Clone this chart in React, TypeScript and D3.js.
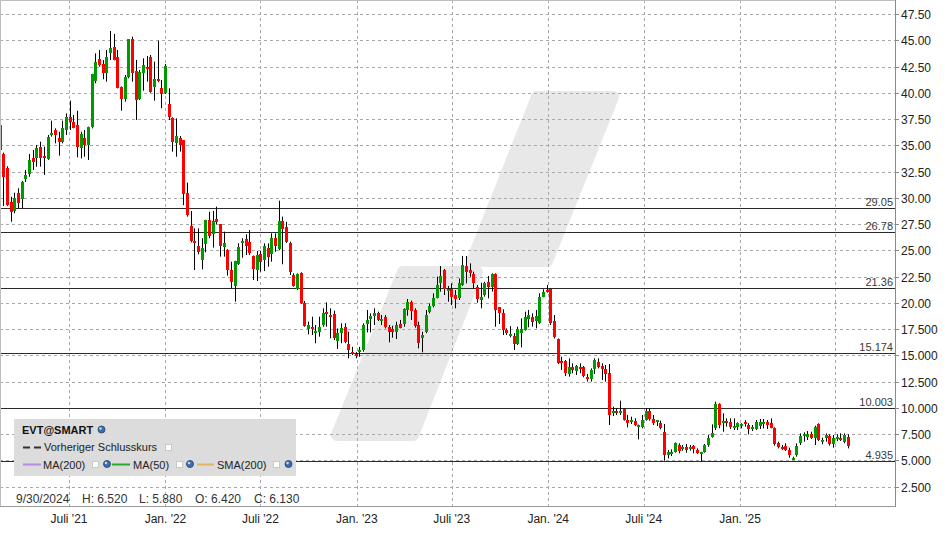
import React from 'react';
import * as d3 from 'd3';

// weekly candles, Friday dates, first bar
const FIRST_WEEK = new Date(2021, 1, 19);

// [open, high, low, close] per week
const ohlc: [number, number, number, number][] = [
  [36.93, 37.72, 34.3, 34.55], [34.17, 34.3, 29.21, 32.01], [32.8, 33.0, 29.2, 29.3], [29.63, 30.1, 27.72, 28.67],
  [28.77, 30.48, 28.52, 29.94], [30.48, 30.9, 28.99, 29.53], [29.88, 31.6, 28.99, 31.53], [31.79, 32.64, 31.5, 32.17],
  [32.26, 34.17, 32.0, 33.6], [33.75, 34.55, 32.64, 33.44], [33.75, 35.02, 32.96, 34.7], [34.83, 35.34, 32.96, 33.82],
  [33.98, 34.86, 32.17, 33.82], [33.69, 35.98, 33.6, 35.82], [35.98, 37.34, 35.82, 36.2], [36.45, 36.61, 35.18, 35.98],
  [35.66, 36.29, 34.01, 35.34], [35.34, 37.34, 35.18, 36.64], [36.45, 38.04, 35.98, 37.72], [37.66, 39.25, 36.45, 37.25],
  [37.25, 37.88, 36.61, 36.67], [36.93, 38.29, 33.85, 34.86], [34.77, 36.29, 33.75, 36.04], [35.72, 36.45, 33.91, 35.02],
  [35.02, 36.77, 33.6, 36.74], [36.74, 41.8, 36.61, 41.79], [41.15, 43.75, 40.9, 42.93], [43.21, 44.07, 42.48, 42.64],
  [42.74, 43.12, 41.28, 41.85], [41.85, 44.07, 41.06, 43.44], [43.75, 45.88, 43.12, 44.23], [44.36, 45.6, 43.1, 43.12],
  [43.37, 44.07, 40.42, 40.48], [40.52, 40.6, 38.29, 39.44], [39.44, 41.69, 39.15, 41.47], [41.47, 45.1, 41.37, 45.09],
  [45.09, 45.34, 41.06, 41.91], [42.07, 43.12, 37.4, 39.34], [39.4, 42.17, 39.31, 42.01], [41.91, 43.28, 40.2, 42.64],
  [42.48, 43.5, 41.06, 42.33], [43.37, 43.6, 40.0, 40.07], [40.52, 42.96, 39.25, 41.28], [41.28, 44.96, 41.0, 41.12],
  [40.45, 41.21, 38.52, 39.88], [39.94, 42.74, 39.88, 42.55], [38.93, 40.42, 37.4, 37.66], [37.56, 37.66, 34.39, 35.34],
  [35.25, 37.56, 33.91, 35.88], [35.66, 35.88, 34.39, 35.02], [35.5, 35.5, 29.3, 30.36], [30.48, 31.44, 28.2, 28.36],
  [27.31, 28.74, 25.75, 25.88], [25.88, 27.08, 23.12, 25.72], [25.4, 27.08, 24.61, 24.8], [24.07, 26.14, 23.18, 25.25],
  [25.6, 27.9, 24.8, 27.88], [27.88, 28.67, 26.14, 26.39], [26.55, 28.74, 25.25, 27.79], [27.98, 29.15, 27.47, 27.72],
  [27.47, 27.5, 24.39, 25.44], [25.34, 26.77, 24.39, 25.66], [25.02, 25.1, 22.58, 23.12], [23.12, 23.91, 21.37, 22.01],
  [21.63, 24.0, 20.1, 23.98], [23.66, 25.66, 23.6, 25.34], [25.72, 26.14, 24.29, 25.88], [26.07, 26.52, 24.55, 25.44],
  [25.75, 26.93, 24.55, 24.77], [24.45, 24.5, 22.17, 23.21], [23.12, 24.93, 22.07, 24.55], [24.61, 24.93, 22.96, 23.91],
  [24.07, 25.66, 23.02, 25.4], [25.18, 25.66, 23.44, 24.39], [24.64, 26.61, 23.91, 26.14], [26.14, 26.61, 24.86, 25.44],
  [25.12, 29.72, 25.0, 27.79], [27.79, 28.2, 23.66, 27.02], [27.24, 27.72, 25.7, 25.82], [25.66, 25.82, 22.64, 22.96],
  [22.64, 22.8, 21.53, 21.63], [21.28, 22.8, 21.21, 22.7], [22.8, 22.9, 19.9, 19.94], [19.94, 20.17, 17.72, 17.82],
  [17.5, 18.2, 16.99, 17.88], [17.72, 18.67, 16.93, 17.5], [17.18, 17.88, 16.14, 17.34], [17.24, 18.67, 16.77, 17.72],
  [17.88, 19.47, 17.72, 18.99], [19.15, 20.04, 17.72, 18.9], [18.83, 19.47, 16.61, 18.67], [18.93, 19.25, 16.45, 16.61],
  [16.39, 17.56, 15.6, 17.09], [17.15, 18.04, 16.14, 17.56], [17.72, 18.04, 16.14, 16.23], [16.04, 17.24, 14.71, 15.5],
  [15.28, 15.8, 15.02, 15.15], [15.15, 15.3, 14.71, 15.02], [15.28, 15.8, 14.86, 15.5], [15.5, 18.04, 15.34, 17.88],
  [17.97, 19.31, 17.18, 18.36], [18.45, 18.99, 17.18, 18.77], [18.77, 19.47, 17.88, 18.99], [18.99, 19.15, 18.26, 18.36],
  [18.26, 18.83, 17.88, 18.45], [18.64, 18.83, 17.56, 17.72], [17.69, 17.88, 16.23, 17.24], [17.5, 17.82, 16.67, 17.18],
  [17.18, 18.2, 16.55, 17.88], [17.94, 18.36, 17.56, 17.62], [17.94, 19.47, 17.72, 19.4], [19.31, 20.36, 18.77, 20.1],
  [20.1, 20.2, 18.36, 19.21], [19.31, 19.47, 17.63, 17.82], [17.88, 18.2, 15.66, 16.14], [16.67, 17.24, 15.28, 16.93],
  [17.18, 19.31, 17.1, 18.83], [19.15, 19.94, 18.99, 19.69], [19.69, 20.9, 19.56, 20.42], [20.48, 22.48, 20.42, 21.69],
  [21.85, 23.5, 21.06, 22.55], [23.12, 23.2, 20.74, 21.28], [21.15, 21.6, 20.1, 21.28], [21.28, 21.85, 19.78, 20.58],
  [20.74, 21.21, 19.47, 20.36], [20.42, 22.32, 20.26, 21.91], [21.69, 24.45, 21.6, 23.6], [23.53, 24.45, 21.85, 22.96],
  [23.12, 23.75, 22.48, 22.8], [22.74, 22.96, 21.37, 21.85], [21.53, 21.69, 20.0, 20.33], [20.26, 21.91, 19.47, 20.58],
  [20.74, 22.0, 20.58, 21.85], [22.0, 22.55, 20.42, 21.47], [21.47, 22.8, 21.06, 22.74], [22.74, 22.8, 17.72, 19.31],
  [19.56, 19.6, 17.98, 19.0], [19.06, 19.37, 16.93, 17.4], [17.4, 17.56, 16.93, 17.09], [16.87, 17.78, 16.71, 17.02],
  [16.87, 17.1, 15.5, 16.07], [16.07, 17.72, 15.98, 17.47], [17.15, 18.51, 15.75, 17.47], [17.4, 19.15, 17.34, 18.61],
  [18.42, 19.31, 17.66, 18.83], [18.61, 18.99, 17.72, 18.2], [18.29, 19.31, 17.56, 18.74], [18.1, 20.9, 17.98, 20.58],
  [20.58, 21.28, 20.52, 21.06], [21.21, 21.69, 20.96, 21.06], [21.28, 21.35, 17.88, 18.04], [18.29, 18.83, 16.6, 16.71],
  [16.52, 16.6, 14.17, 14.23], [14.45, 14.86, 13.6, 14.39], [14.45, 14.55, 13.02, 13.28], [13.22, 14.7, 12.96, 13.85],
  [13.85, 14.23, 13.28, 13.6], [13.53, 14.07, 13.12, 13.98], [13.85, 14.23, 13.28, 13.66], [13.85, 13.98, 12.9, 13.02],
  [12.9, 13.22, 12.49, 12.71], [12.71, 13.75, 12.49, 13.6], [13.66, 14.7, 13.22, 14.55], [14.39, 14.7, 13.75, 13.91],
  [13.98, 14.23, 12.64, 13.66], [13.66, 14.07, 12.49, 13.22], [13.28, 14.17, 8.36, 9.31], [9.53, 10.1, 9.21, 9.69],
  [9.69, 9.94, 9.31, 9.53], [9.53, 10.67, 9.31, 9.69], [9.85, 9.94, 8.77, 8.83], [8.83, 9.31, 8.13, 8.52],
  [8.67, 9.15, 8.45, 8.83], [8.77, 8.99, 8.26, 8.36], [8.2, 8.4, 6.99, 8.36], [8.13, 9.31, 8.04, 8.83],
  [8.83, 9.94, 8.77, 9.69], [9.69, 9.94, 8.77, 8.9], [8.9, 9.31, 8.36, 8.58], [8.67, 8.83, 8.26, 8.83],
  [8.58, 8.77, 7.94, 8.04], [7.72, 8.45, 4.96, 5.5], [5.5, 5.98, 5.18, 5.82], [5.66, 6.04, 5.4, 5.82],
  [5.82, 6.7, 5.72, 6.67], [6.45, 6.61, 5.66, 5.91], [6.04, 6.45, 5.91, 6.23], [6.23, 6.55, 5.72, 5.98],
  [6.04, 6.45, 5.91, 6.23], [6.36, 6.45, 5.66, 6.1], [5.98, 6.13, 5.6, 5.66], [5.66, 5.8, 4.93, 5.79],
  [5.82, 6.55, 5.72, 6.45], [6.45, 7.4, 6.29, 7.09], [7.24, 8.42, 7.15, 7.56], [8.04, 10.58, 7.88, 10.36],
  [10.36, 10.42, 8.04, 8.36], [8.61, 9.47, 7.72, 8.74], [8.74, 8.99, 8.2, 8.52], [8.61, 8.99, 7.98, 8.2],
  [8.1, 8.99, 7.88, 8.29], [8.2, 8.61, 7.88, 8.52], [8.29, 8.52, 8.04, 8.42], [8.67, 8.83, 8.2, 8.42],
  [8.36, 8.52, 7.47, 7.98], [7.98, 8.36, 7.78, 8.2], [7.98, 8.83, 7.88, 8.61], [8.29, 8.93, 7.98, 8.61],
  [8.52, 8.93, 8.04, 8.61], [8.61, 8.83, 7.98, 8.36], [8.52, 8.99, 8.04, 8.1], [8.1, 8.14, 6.39, 6.52],
  [6.61, 6.77, 6.13, 6.29], [6.29, 6.45, 5.98, 6.13], [6.39, 6.61, 5.88, 5.98], [5.98, 6.2, 5.25, 5.5],
  [5.12, 5.34, 5.02, 5.25], [5.5, 6.61, 5.34, 6.39], [6.61, 7.56, 6.45, 7.34], [7.34, 7.66, 6.77, 7.47],
  [7.24, 7.78, 6.93, 7.47], [7.47, 7.72, 7.02, 7.15], [7.15, 8.29, 6.45, 8.2], [8.42, 8.52, 6.83, 6.93],
  [6.77, 7.15, 6.52, 6.93], [7.15, 7.56, 6.77, 7.4], [7.34, 7.47, 6.39, 6.52], [6.52, 7.4, 6.2, 7.15],
  [7.09, 7.47, 6.83, 7.24], [7.15, 7.56, 6.83, 7.02], [6.77, 7.56, 6.61, 7.4], [7.24, 7.47, 6.13, 6.39],
];

// horizontal levels (support / resistance)
const levels = [29.05, 26.78, 21.36, 15.174, 10.003, 4.935];
const levelLabels = ['29.05', '26.78', '21.36', '15.174', '10.003', '4.935'];

// right axis
const yTicks = [47.5, 45, 42.5, 40, 37.5, 35, 32.5, 30, 27.5, 25, 22.5, 20, 17.5, 15, 12.5, 10, 7.5, 5, 2.5];
const yTickLabels = ['47.50', '45.00', '42.50', '40.00', '37.50', '35.00', '32.50', '30.00', '27.50', '25.00',
  '22.50', '20.00', '17.500', '15.000', '12.500', '10.000', '7.500', '5.000', '2.500'];

// month grid
const monthTicks = [
  new Date(2021, 6, 1), new Date(2022, 0, 1), new Date(2022, 6, 1), new Date(2023, 0, 1), new Date(2023, 6, 1),
  new Date(2024, 0, 1), new Date(2024, 6, 1), new Date(2025, 0, 1), new Date(2025, 6, 1),
];
const monthLabels = ["Juli '21", "Jan. '22", "Juli '22", "Jan. '23", "Juli '23", "Jan. '24", "Juli '24", "Jan. '25", ''];

const infoItems = ['9/30/2024', 'H: 6.520', 'L: 5.880', 'O: 6.420', 'C: 6.130'];
const infoX = [16, 82, 139, 195, 254];

const W = 948;
const H = 534;
const plot = { left: 0, right: 895, top: 0, bottom: 506 };
const FONT = '"Liberation Sans", Arial, sans-serif';

const Globe: React.FC<{ x: number; y: number }> = ({ x, y }) => (
  <g>
    <circle cx={x} cy={y} r={3.5} fill="#3d6fb0" stroke="#1f3f6a" strokeWidth={0.8} />
    <circle cx={x - 1} cy={y - 1} r={1.3} fill="#bcd6f2" />
  </g>
);

const Check: React.FC<{ x: number; y: number }> = ({ x, y }) => (
  <rect x={x + 0.5} y={y + 0.5} width={6} height={6} fill="#ffffff" stroke="#c8c8c8" />
);

const App: React.FC = () => {
  const x = d3.scaleTime()
    .domain([new Date(2021, 6, 1), new Date(2025, 6, 1)])
    .range([69, 835]);
  const y = d3.scaleLinear().domain([2.5, 47.5]).range([486.5, 14]);

  const candles = ohlc.map((d, i) => {
    const date = d3.timeDay.offset(FIRST_WEEK, i * 7);
    return { date, o: d[0], h: d[1], l: d[2], c: d[3] };
  });

  const watermarkA = '537,97 613,97 547,261 472,261';
  const watermarkB = '403,272 477,272 413,435 337,435';

  return (
    <svg width={W} height={H} style={{ position: 'absolute', left: 0, top: 0, background: '#fff' }}
      fontFamily={FONT}>
      <defs>
        <clipPath id="plotClip">
          <rect x={plot.left} y={plot.top} width={plot.right - plot.left} height={plot.bottom - plot.top} />
        </clipPath>
      </defs>

      {/* watermark */}
      <g fill="#e8e8e8" stroke="#e8e8e8" strokeWidth={12} strokeLinejoin="round">
        <polygon points={watermarkA} />
        <polygon points={watermarkB} />
      </g>

      {/* grid */}
      <g stroke="#a8a8a8" strokeDasharray="3,3" strokeWidth={1}>
        {yTicks.map(t => (
          <line key={t} x1={plot.left} x2={plot.right} y1={Math.round(y(t)) + 0.5} y2={Math.round(y(t)) + 0.5} />
        ))}
        {monthTicks.map(t => (
          <line key={+t} x1={Math.round(x(t)) + 0.5} x2={Math.round(x(t)) + 0.5} y1={plot.top} y2={plot.bottom} />
        ))}
      </g>

      {/* level lines */}
      <g>
        {levels.map((v, i) => {
          const yy = Math.round(y(v)) + 0.5;
          return (
            <g key={v}>
              <line x1={plot.left} x2={plot.right} y1={yy} y2={yy} stroke="#2b2b2b" strokeWidth={1} />
              <text x={plot.right - 2} y={yy - 2.5} textAnchor="end" fontSize={11} fill="#3a3a3a">
                {levelLabels[i]}
              </text>
            </g>
          );
        })}
      </g>

      {/* candles */}
      <g clipPath="url(#plotClip)">
        {candles.map((d, i) => {
          const cx = Math.round(x(d.date));
          const up = d.c >= d.o;
          const top = Math.round(y(Math.max(d.o, d.c)));
          const bot = Math.round(y(Math.min(d.o, d.c)));
          return (
            <g key={i}>
              <line x1={cx + 0.5} x2={cx + 0.5} y1={y(d.h)} y2={y(d.l)} stroke="#000" strokeWidth={1} />
              <rect x={cx - 1} y={top} width={3} height={Math.max(2, bot - top)}
                fill={up ? '#009a00' : '#ff0000'} />
            </g>
          );
        })}
      </g>

      {/* frame and axes */}
      <line x1={0.5} x2={0.5} y1={0} y2={plot.bottom} stroke="#bdbdbd" />
      <line x1={0} x2={plot.right} y1={0.5} y2={0.5} stroke="#bdbdbd" />
      <line x1={0} x2={plot.right} y1={plot.bottom + 0.5} y2={plot.bottom + 0.5} stroke="#9a9a9a" />
      <line x1={plot.right + 0.5} x2={plot.right + 0.5} y1={0} y2={plot.bottom + 1} stroke="#8a8a8a" />

      <g fontSize={12} fill="#222">
        {yTicks.map((t, i) => {
          const yy = Math.round(y(t)) + 0.5;
          return (
            <g key={t}>
              <line x1={plot.right} x2={plot.right + 4} y1={yy} y2={yy} stroke="#8a8a8a" />
              <text x={plot.right + 6} y={yy} dy="0.35em">{yTickLabels[i]}</text>
            </g>
          );
        })}
        {monthTicks.map((t, i) => (
          <text key={+t} x={x(t)} y={523} textAnchor="middle">{monthLabels[i]}</text>
        ))}
      </g>

      {/* legend */}
      <rect x={14} y={419} width={282} height={57} fill="#dcdcdc" />
      <g fontSize={11} fill="#222">
        <text x={22} y={433.5} fontWeight="bold" fill="#111">EVT@SMART</text>
        <text x={44} y={451} >Vorheriger Schlusskurs</text>
        <text x={43} y={468.5}>MA(200)</text>
        <text x={133} y={468.5}>MA(50)</text>
        <text x={217} y={468.5}>SMA(200)</text>
      </g>
      <Globe x={101.5} y={429.5} />
      <line x1={23} x2={41} y1={447.5} y2={447.5} stroke="#333" strokeWidth={2} strokeDasharray="7,4" />
      <Check x={165} y={444} />

      <line x1={23} x2={41} y1={464.5} y2={464.5} stroke="#b48ee2" strokeWidth={2} />
      <Check x={92} y={461} />
      <Globe x={107} y={464} />
      <line x1={112} x2={130} y1={464.5} y2={464.5} stroke="#2aa82a" strokeWidth={2} />
      <Check x={176} y={461} />
      <Globe x={190} y={464} />
      <line x1={197} x2={214} y1={464.5} y2={464.5} stroke="#e2b466" strokeWidth={2} />
      <Check x={273} y={461} />
      <Globe x={288.5} y={464} />

      {/* hover info */}
      <g fontSize={12} fill="#333">
        {infoItems.map((s, i) => (
          <text key={s} x={infoX[i]} y={503}>{s}</text>
        ))}
      </g>
    </svg>
  );
};

export default App;
